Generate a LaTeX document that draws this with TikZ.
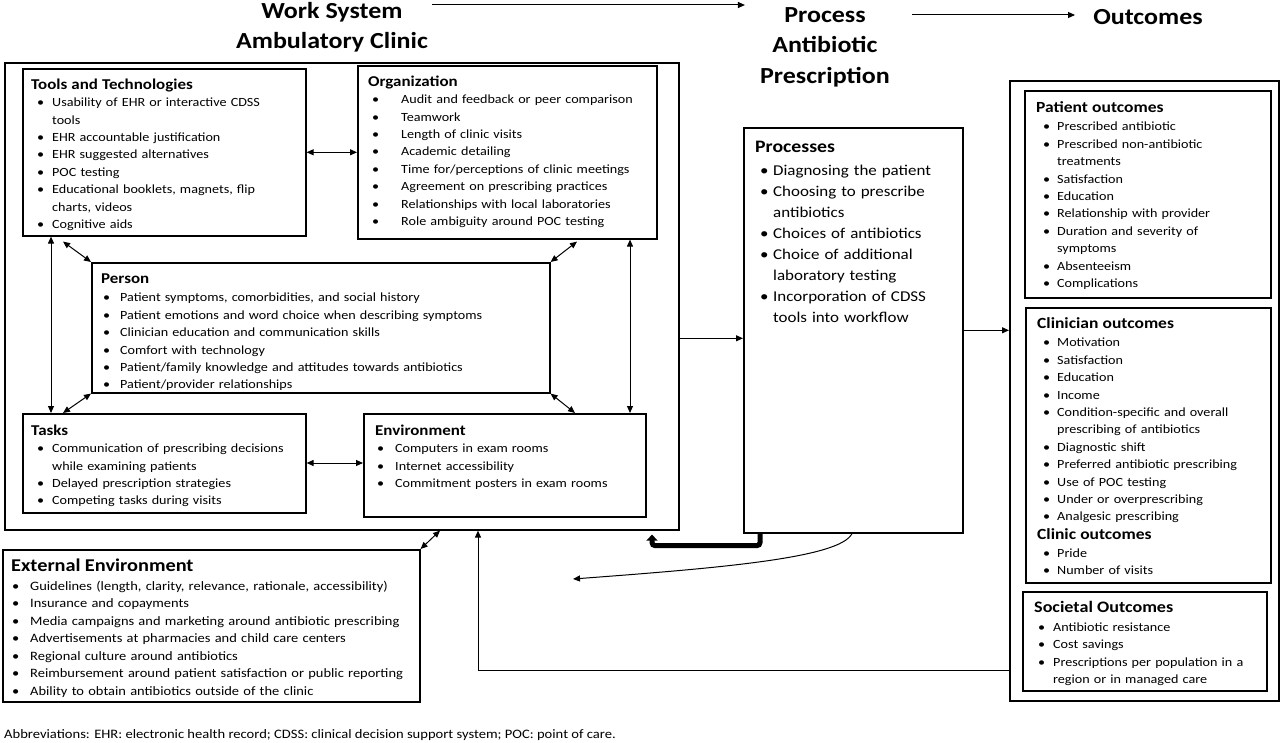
\documentclass[tikz,border=0pt]{standalone}
\usepackage{fontspec}
\setmainfont{Carlito}[FakeStretch=1.13]
\usetikzlibrary{arrows.meta}
\newlength\bi
\newlength\ti
\newcommand\itm[1]{\par\noindent\makebox[\ti][l]{\hspace{\bi}\textbullet}#1\par}
\newcommand\cnt[1]{\par\noindent\hspace*{\ti}#1\par}
\newcommand\hd[2][15]{\noindent{\fontsize{#1}{18}\selectfont\bfseries #2}\par}
\newcommand\setind[2]{\setlength\bi{#1pt}\setlength\ti{#2pt}}
\tikzset{
  box/.style={draw, line width=1.6pt, anchor=north west, inner sep=0pt},
  txt/.style={anchor=north west, inner sep=0pt, text width=#1, font=\fontsize{12.5}{17.4}\selectfont},
  ptxt/.style={anchor=north west, inner sep=0pt, text width=#1, font=\fontsize{15}{21}\selectfont},
  ttl/.style={align=center, inner sep=0pt, font=\fontsize{23}{30.5}\selectfont\bfseries},
  arr/.style={line width=1pt, -{Triangle[length=7pt,width=6pt]}},
  dar/.style={line width=1pt, {Triangle[length=7pt,width=6pt]}-{Triangle[length=7pt,width=6pt]}},
}
\begin{document}
\begin{tikzpicture}[x=1pt,y=-1pt]
\useasboundingbox (0,0) rectangle (1280,743);
% titles
\node[ttl] (wt) at (332,27) {Work System\\Ambulatory Clinic};
\node[ttl] (pt) at (825,47) {Process\\Antibiotic\\Prescription};
\node[ttl, anchor=center] (ot) at (1148,17) {Outcomes};
\coordinate (wa) at (432,5);
\coordinate (pa) at (912,15);
\draw[arr] (wa) -- ([xshift=-15pt]pt.west |- wa);
\draw[arr] (pa) -- ([xshift=-18pt]ot.west |- pa);
% boxes
\node[box, minimum width=674pt, minimum height=467pt] (work) at (4,62) {};
\node[box, minimum width=283pt, minimum height=167pt] (tools) at (22,68) {};
\node[box, minimum width=299pt, minimum height=173pt] (org) at (357,65) {};
\node[box, minimum width=458pt, minimum height=130pt] (person) at (91,262) {};
\node[box, minimum width=283pt, minimum height=99pt] (tasks) at (22,413) {};
\node[box, minimum width=282pt, minimum height=103pt] (env) at (363,413) {};
\node[box, minimum width=417pt, minimum height=152pt] (ext) at (2,549) {};
\node[box, minimum width=219pt, minimum height=405pt] (proc) at (743,127) {};
\node[box, minimum width=269pt, minimum height=620pt] (outc) at (1009,80) {};
\node[box, minimum width=246pt, minimum height=207pt] (pout) at (1024,90) {};
\node[box, minimum width=245pt, minimum height=275pt] (cout) at (1025,307) {};
\node[box, minimum width=244pt, minimum height=99pt] (sout) at (1022,591) {};
% texts
\node[txt=270pt] (toolsT) at (31,78.5) {\setind{6}{21}\hd{Tools and Technologies}
\itm{Usability of EHR or interactive CDSS}
\cnt{tools}
\itm{EHR accountable justification}
\itm{EHR suggested alternatives}
\itm{POC testing}
\itm{Educational booklets, magnets, flip}
\cnt{charts, videos}
\itm{Cognitive aids}};
\node[txt=285pt] (orgT) at (368,75.5) {\setind{4}{33}\hd{Organization}
\itm{Audit and feedback or peer comparison}
\itm{Teamwork}
\itm{Length of clinic visits}
\itm{Academic detailing}
\itm{Time for/perceptions of clinic meetings}
\itm{Agreement on prescribing practices}
\itm{Relationships with local laboratories}
\itm{Role ambiguity around POC testing}};
\node[txt=440pt] (personT) at (101,273.5) {\setind{2}{19}\hd{Person}\vspace{1pt}
\itm{Patient symptoms, comorbidities, and social history}
\itm{Patient emotions and word choice when describing symptoms}
\itm{Clinician education and communication skills}
\itm{Comfort with technology}
\itm{Patient/family knowledge and attitudes towards antibiotics}
\itm{Patient/provider relationships}};
\node[txt=270pt] (tasksT) at (31,424.5) {\setind{6}{21}\hd{Tasks}
\itm{Communication of prescribing decisions}
\cnt{while examining patients}
\itm{Delayed prescription strategies}
\itm{Competing tasks during visits}};
\node[txt=265pt] (envT) at (375,424.5) {\setind{2}{20}\hd{Environment}
\itm{Computers in exam rooms}
\itm{Internet accessibility}
\itm{Commitment posters in exam rooms}};
\node[txt=405pt, font=\fontsize{12.8}{17.5}\selectfont] (extT) at (11,559) {\setind{1}{19}\hd[18]{External Environment}\vspace{1pt}
\itm{Guidelines (length, clarity, relevance, rationale, accessibility)}
\itm{Insurance and copayments}
\itm{Media campaigns and marketing around antibiotic prescribing}
\itm{Advertisements at pharmacies and child care centers}
\itm{Regional culture around antibiotics}
\itm{Reimbursement around patient satisfaction or public reporting}
\itm{Ability to obtain antibiotics outside of the clinic}};
\node[ptxt=205pt] (procT) at (755,141) {\setind{5}{18}\hd[17.5]{Processes}\vspace{2pt}
\itm{Diagnosing the patient}
\itm{Choosing to prescribe}
\cnt{antibiotics}
\itm{Choices of antibiotics}
\itm{Choice of additional}
\cnt{laboratory testing}
\itm{Incorporation of CDSS}
\cnt{tools into workflow}};
\node[txt=230pt] (poutT) at (1036,101) {\setind{7}{21}\hd[15.5]{Patient outcomes}\vspace{1.5pt}
\itm{Prescribed antibiotic}
\itm{Prescribed non-antibiotic}
\cnt{treatments}
\itm{Satisfaction}
\itm{Education}
\itm{Relationship with provider}
\itm{Duration and severity of}
\cnt{symptoms}
\itm{Absenteeism}
\itm{Complications}};
\node[txt=230pt] (coutT) at (1037,317) {\setind{6}{20}\hd[15.5]{Clinician outcomes}\vspace{1.5pt}
\itm{Motivation}
\itm{Satisfaction}
\itm{Education}
\itm{Income}
\itm{Condition-specific and overall}
\cnt{prescribing of antibiotics}
\itm{Diagnostic shift}
\itm{Preferred antibiotic prescribing}
\itm{Use of POC testing}
\itm{Under or overprescribing}
\itm{Analgesic prescribing}\vspace{1.5pt}
\hd[15.5]{Clinic outcomes}
\itm{Pride}
\itm{Number of visits}};
\node[txt=230pt] (soutT) at (1034,601) {\setind{4}{19}\hd[16]{Societal Outcomes}\vspace{1.5pt}
\itm{Antibiotic resistance}
\itm{Cost savings}
\itm{Prescriptions per population in a}
\cnt{region or in managed care}};
\node[anchor=west, inner sep=0pt, font=\fontsize{12.9}{14}\selectfont] (abbr) at (4,735) {Abbreviations: EHR: electronic health record; CDSS: clinical decision support system; POC: point of care.};
% connectors inside work system
\draw[dar] (tools.east) -- (tools.east -| org.west);
\draw[dar] ([xshift=29pt]tools.south west) -- ([xshift=29pt]tasks.north west);
\draw[dar] ([xshift=41pt,yshift=-5pt]tools.south west) -- (person.north west);
\draw[dar] ([xshift=220pt,yshift=-2pt]org.south west) -- (person.north east);
\draw[dar] ([xshift=273pt]org.south west) -- ([xshift=267pt]env.north west);
\draw[dar] (person.south west) -- ([xshift=41pt]tasks.north west);
\draw[dar] (person.south east) -- ([xshift=212pt]env.north west);
\draw[dar] (tasks.east |- 0,463) coordinate (te) -- (te -| env.west);
\draw[dar] ([xshift=436pt]work.south west) -- (ext.north east);
% main flow
\draw[arr] ([yshift=-42pt]work.east) coordinate (we) -- (we -| proc.west);
\draw[arr] (proc.east) -- (proc.east -| outc.west);
\draw[arr] ([yshift=-280pt]outc.west) -| ([xshift=474pt]work.south west);
\draw[line width=5pt, rounded corners=3pt, -{Triangle[length=6pt,width=11pt]}] ([xshift=17pt]proc.south west) -- ++(0,12) -| ([xshift=648pt,yshift=-4pt]work.south west);
\coordinate (cfree) at (573,579);
\draw[arr] ([xshift=109pt]proc.south west) .. controls (840,558) and (720,568) .. (cfree);
\end{tikzpicture}
\end{document}
